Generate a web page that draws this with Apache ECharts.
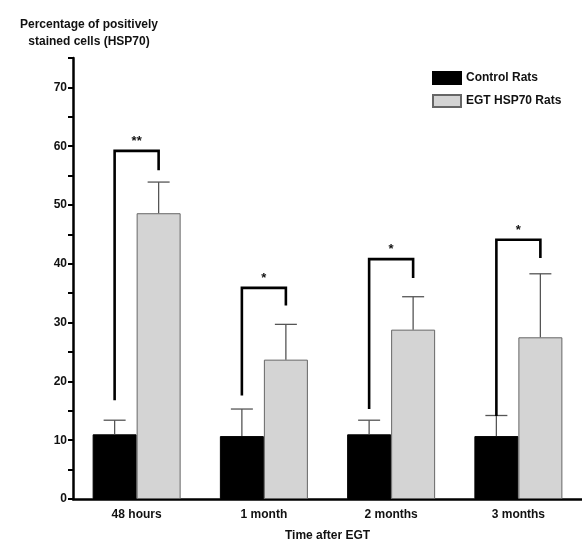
<!DOCTYPE html>
<html>
<head>
<meta charset="utf-8">
<script src="https://cdn.jsdelivr.net/npm/echarts@6/dist/echarts.min.js"></script>
<style>html,body{margin:0;padding:0;background:#fff;}#main{width:582px;height:547px;}</style>
</head>
<body>
<div id="main"></div>
<script>
const categories = ['48 hours', '1 month', '2 months', '3 months'];
const controlMean = [11.0, 10.7, 11.0, 10.7];
const controlUpper = [13.4, 15.3, 13.4, 14.2];
const egtMean = [48.6, 23.7, 28.8, 27.5];
const egtUpper = [53.9, 29.7, 34.4, 38.3];
const bracketLeft = [16.8, 17.6, 15.3, 14.1];
const bracketTop = [59.2, 35.9, 40.8, 44.1];
const bracketRight = [55.9, 32.9, 37.6, 41.0];
const significance = ['**', '*', '*', '*'];
const yTicks = [0, 10, 20, 30, 40, 50, 60, 70];

const FONT = 'Liberation Sans, Arial, sans-serif';
const BAR_W = 44;

const chart = echarts.init(document.getElementById('main'));

function errRender(side) {
  return function (params, api) {
    const i = api.value(0);
    const c = api.coord([i, api.value(1)]);
    const t = api.coord([i, api.value(2)]);
    const x = c[0] + side * BAR_W / 2;
    return {
      type: 'group',
      children: [
        { type: 'line', shape: { x1: x, y1: c[1], x2: x, y2: t[1] }, style: { stroke: '#555', lineWidth: 1.3 } },
        { type: 'line', shape: { x1: x - 11, y1: t[1], x2: x + 11, y2: t[1] }, style: { stroke: '#555', lineWidth: 1.3 } }
      ]
    };
  };
}

const option = {
  animation: false,
  backgroundColor: '#fff',
  title: {
    text: 'Percentage of positively\nstained cells (HSP70)',
    left: 84, top: 11, textAlign: 'center',
    textStyle: { fontFamily: FONT, fontSize: 12, fontWeight: 'bold', color: '#111', lineHeight: 17 }
  },
  legend: {
    orient: 'vertical', left: 427, top: 66, itemWidth: 28, itemHeight: 12, itemGap: 9,
    icon: 'rect',
    data: ['Control Rats', 'EGT HSP70 Rats'],
    textStyle: { fontFamily: FONT, fontSize: 12, fontWeight: 'bold', color: '#111' }
  },
  grid: { left: 73, right: -3, top: 58, bottom: 45, containLabel: false },
  xAxis: {
    type: 'category', data: categories,
    name: 'Time after EGT', nameLocation: 'middle', nameGap: 31,
    nameTextStyle: { fontFamily: FONT, fontSize: 12, fontWeight: 'bold', color: '#111' },
    axisLine: { lineStyle: { color: '#000', width: 2.5 } },
    axisTick: { alignWithLabel: true, length: 6, lineStyle: { color: '#000', width: 2 } },
    axisLabel: { margin: 10, fontFamily: FONT, fontSize: 12, fontWeight: 'bold', color: '#111' }
  },
  yAxis: {
    type: 'value', min: 0, max: 75, interval: 5,
    splitLine: { show: false },
    axisLine: { show: true, lineStyle: { color: '#000', width: 2.5 } },
    axisTick: { show: true, length: 5, lineStyle: { color: '#000', width: 2 } },
    axisLabel: {
      margin: 6, fontFamily: FONT, fontSize: 12, fontWeight: 'bold', color: '#111',
      formatter: function (v) { return yTicks.indexOf(v) >= 0 ? String(v) : ''; }
    }
  },
  series: [
    {
      name: 'Control Rats', type: 'bar', data: controlMean, barWidth: BAR_W, barGap: '0%',
      itemStyle: { color: '#000', borderColor: '#000', borderWidth: 1 }
    },
    {
      name: 'EGT HSP70 Rats', type: 'bar', data: egtMean, barWidth: BAR_W, barGap: '0%',
      itemStyle: { color: '#d4d4d4', borderColor: '#666', borderWidth: 1 }
    },
    {
      type: 'custom', name: 'errC', z: 3,
      data: categories.map((c, i) => [i, controlMean[i], controlUpper[i]]),
      encode: { x: 0, y: [1, 2] },
      renderItem: errRender(-1)
    },
    {
      type: 'custom', name: 'errE', z: 3,
      data: categories.map((c, i) => [i, egtMean[i], egtUpper[i]]),
      encode: { x: 0, y: [1, 2] },
      renderItem: errRender(1)
    },
    {
      type: 'custom', name: 'brackets', z: 4, clip: false,
      data: categories.map((c, i) => [i, bracketLeft[i], bracketTop[i], bracketRight[i]]),
      encode: { x: 0, y: [1, 2, 3] },
      renderItem: function (params, api) {
        const i = api.value(0);
        const pl = api.coord([i, api.value(1)]);
        const pt = api.coord([i, api.value(2)]);
        const pr = api.coord([i, api.value(3)]);
        const xl = pl[0] - BAR_W / 2, xr = pl[0] + BAR_W / 2;
        return {
          type: 'group',
          children: [
            { type: 'polyline', shape: { points: [[xl, pl[1]], [xl, pt[1]], [xr, pt[1]], [xr, pr[1]]] },
              style: { stroke: '#000', lineWidth: 2.6, fill: null, lineJoin: 'miter' } },
            { type: 'text', x: pl[0], y: pt[1] - 3,
              style: { text: significance[i], fontFamily: FONT, fontSize: 13, fontWeight: 'bold', fill: '#111',
                       align: 'center', verticalAlign: 'bottom' } }
          ]
        };
      }
    }
  ]
};
chart.setOption(option);
</script>
</body>
</html>
